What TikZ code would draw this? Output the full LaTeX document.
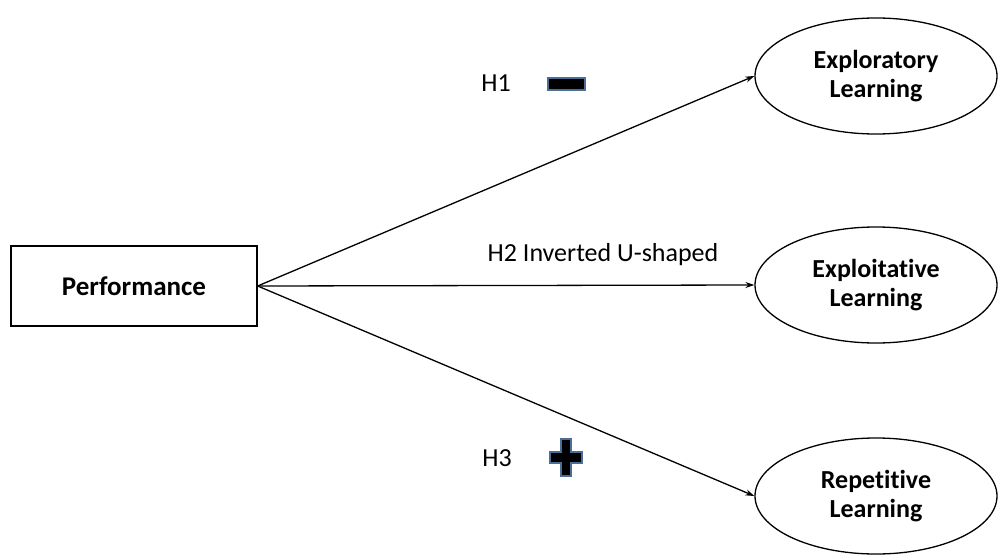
\documentclass[tikz,border=0pt]{standalone}
\usepackage{fontspec}
\setmainfont{Carlito}[RawFeature={-liga;-clig;-calt;-dlig}]
\usetikzlibrary{shapes.geometric,arrows.meta}
\definecolor{signedge}{HTML}{4A6E96}
\tikzset{
  construct/.style={draw, ellipse, line width=1.3pt, minimum width=242pt, minimum height=116pt,
    inner sep=0pt, align=center, font=\fontsize{26}{29}\selectfont\bfseries},
  sourcebox/.style={draw, rectangle, line width=1.3pt, minimum width=246pt, minimum height=80pt,
    inner sep=0pt, font=\fontsize{27}{30}\selectfont\bfseries},
  path/.style={line width=1.3pt, -{Stealth[length=9pt,width=6pt]}},
  hyp/.style={font=\fontsize{26}{29}\selectfont, inner sep=0pt},
  sign/.style={fill=black, draw=signedge, line width=1.2pt}
}
\begin{document}
\begin{tikzpicture}[x=1pt, y=-1pt]
\useasboundingbox (0,0) rectangle (1000,559);
\node[sourcebox] (perf) at (134,286) {Performance};
\node[construct] (explor) at (876,76) {Exploratory\\Learning};
\node[construct] (exploit) at (876,285) {Exploitative\\Learning};
\node[construct] (repet) at (876,496) {Repetitive\\Learning};
\draw[path] (perf.east) -- (explor.west);
\draw[path] (perf.east) -- (exploit.west);
\draw[path] (perf.east) -- (repet.west);
\node[hyp] (h1) at (496,83) {H1};
\node[hyp] (h2) at (603,255) {H2 Inverted U-shaped};
\node[hyp] (h3) at (497,458) {H3};
% minus and plus signs
\draw[sign] (548,78) rectangle (585,90) coordinate (minus);
\draw[sign] (561,439) -- (571,439) -- (571,452) -- (582,452) -- (582,463) -- (571,463)
  -- (571,476) -- (561,476) -- (561,463) -- (550,463) -- (550,452) -- (561,452) -- cycle;
\end{tikzpicture}
\end{document}
